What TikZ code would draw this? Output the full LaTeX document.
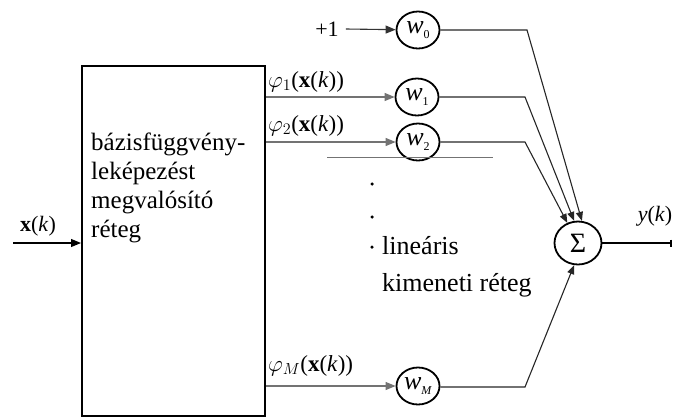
\documentclass[tikz,border=0pt]{standalone}
\usepackage{fix-cm}
\usepackage{fontspec}
\setmainfont{Liberation Serif}
\usetikzlibrary{shapes.geometric,arrows.meta}
% small lowered index for the weight labels
\newcommand{\wsub}[1]{\raisebox{-5pt}{\fontsize{12}{12}\selectfont #1}}

\begin{document}
\begin{tikzpicture}[x=1pt,y=-1pt,
  wnode/.style={draw,line width=1.8pt,ellipse,minimum width=43pt,minimum height=37pt,
    inner sep=0pt,font=\fontsize{26}{28}\selectfont},
  feed/.style={draw=black!55,line width=1.1pt,-{Triangle[length=10pt,width=8pt]}},
  sumline/.style={draw=black!85,line width=1.1pt,-{Triangle[length=9pt,width=7pt]}},
  lbl/.style={inner sep=0pt,font=\fontsize{22}{26}\selectfont},
  philbl/.style={inner sep=0pt,anchor=west,font=\fontsize{23}{27}\selectfont},
  bodytxt/.style={inner sep=0pt,anchor=base west,font=\fontsize{25}{30}\selectfont},
  captxt/.style={inner sep=0pt,anchor=base west,font=\fontsize{26}{30}\selectfont},
  dotmark/.style={circle,fill=black,inner sep=0pt,minimum size=3.5pt}
]
\useasboundingbox (0,0) rectangle (674,418);

% basis-function layer
\node[draw,line width=2pt,minimum width=183pt,minimum height=350pt,inner sep=0pt]
  (box) at (173.5,241) {};
\node[bodytxt] (t1) at (91,150) {bázisfüggvény-};
\node[bodytxt] (t2) at (91,179) {leképezést};
\node[bodytxt] (t3) at (91,208) {megvalósító};
\node[bodytxt] (t4) at (91,237) {réteg};

% input
\coordinate (in) at (13,243);
\draw[line width=1.1pt,-{Triangle[length=10pt,width=8pt]}] (in) -- (box.west |- in);
\node[lbl] (xk) at (38,226) {\textbf{x}(\textit{k})};

% weights
\node[wnode] (w0) at (418,30) {\textit{w}\wsub{0}};
\node[wnode] (w1) at (417,97) {\textit{w}\wsub{1}};
\node[wnode] (w2) at (418,142) {\textit{w}\wsub{2}};
\node[wnode] (wM) at (418,386) {\textit{w}\wsub{\textit{M}}};

\node[lbl] (p1) at (327,29) {+1};
\draw[line width=1.1pt,draw=black!80,-{Triangle[length=10pt,width=8pt]}] (p1.east) ++(7,0) coordinate (p1s) -- (w0);

\draw[feed] (box.east |- w1) -- (w1);
\draw[feed] (box.east |- w2) -- (w2);
\draw[feed] (box.east |- wM) -- (wM);

\node[philbl] (f1) at (268,82) {$\varphi_1$(\textbf{x}(\textit{k}))};
\node[philbl] (f2) at (268,126) {$\varphi_2$(\textbf{x}(\textit{k}))};
\node[philbl] (fM) at (268,366) {$\varphi_M$(\textbf{x}(\textit{k}))};

% separator line under w2
\coordinate (s1) at (327,157);
\coordinate (s2) at (493,157);
\draw[draw=black!55,line width=1pt] (s1) -- (s2);

% dots and layer caption
\node[dotmark] (d1) at (372,184) {};
\node[dotmark] (d2) at (372,217) {};
\node[dotmark] (d3) at (372,247) {};
\node[captxt] (l1) at (382,254) {lineáris};
\node[captxt] (l2) at (382,291) {kimeneti réteg};

% summing node
\node[draw,line width=1.8pt,ellipse,minimum width=47pt,minimum height=43pt,inner sep=0pt,
  font=\fontsize{28}{32}\selectfont] (sig) at (578,243) {Σ};

\coordinate (b0) at (527,30);
\coordinate (b1) at (525,97);
\coordinate (b2) at (525,142);
\coordinate (bM) at (525,387);
\draw[sumline] (w0.east) -- (b0) -- (sig.80);
\draw[sumline] (w1.east) -- (b1) -- (sig.100);
\draw[sumline] (w2.east) -- (b2) -- (sig.118);
\draw[sumline] (wM.east |- bM) -- (bM) -- (sig.-100);

% output
\coordinate (out) at (672,243);
\draw[line width=1.1pt,-{Bar[width=7pt,line width=1.6pt]}] (sig.east) -- (out);
\node[lbl] (yk) at (655,216) {\textit{y}(\textit{k})};
\end{tikzpicture}
\end{document}
